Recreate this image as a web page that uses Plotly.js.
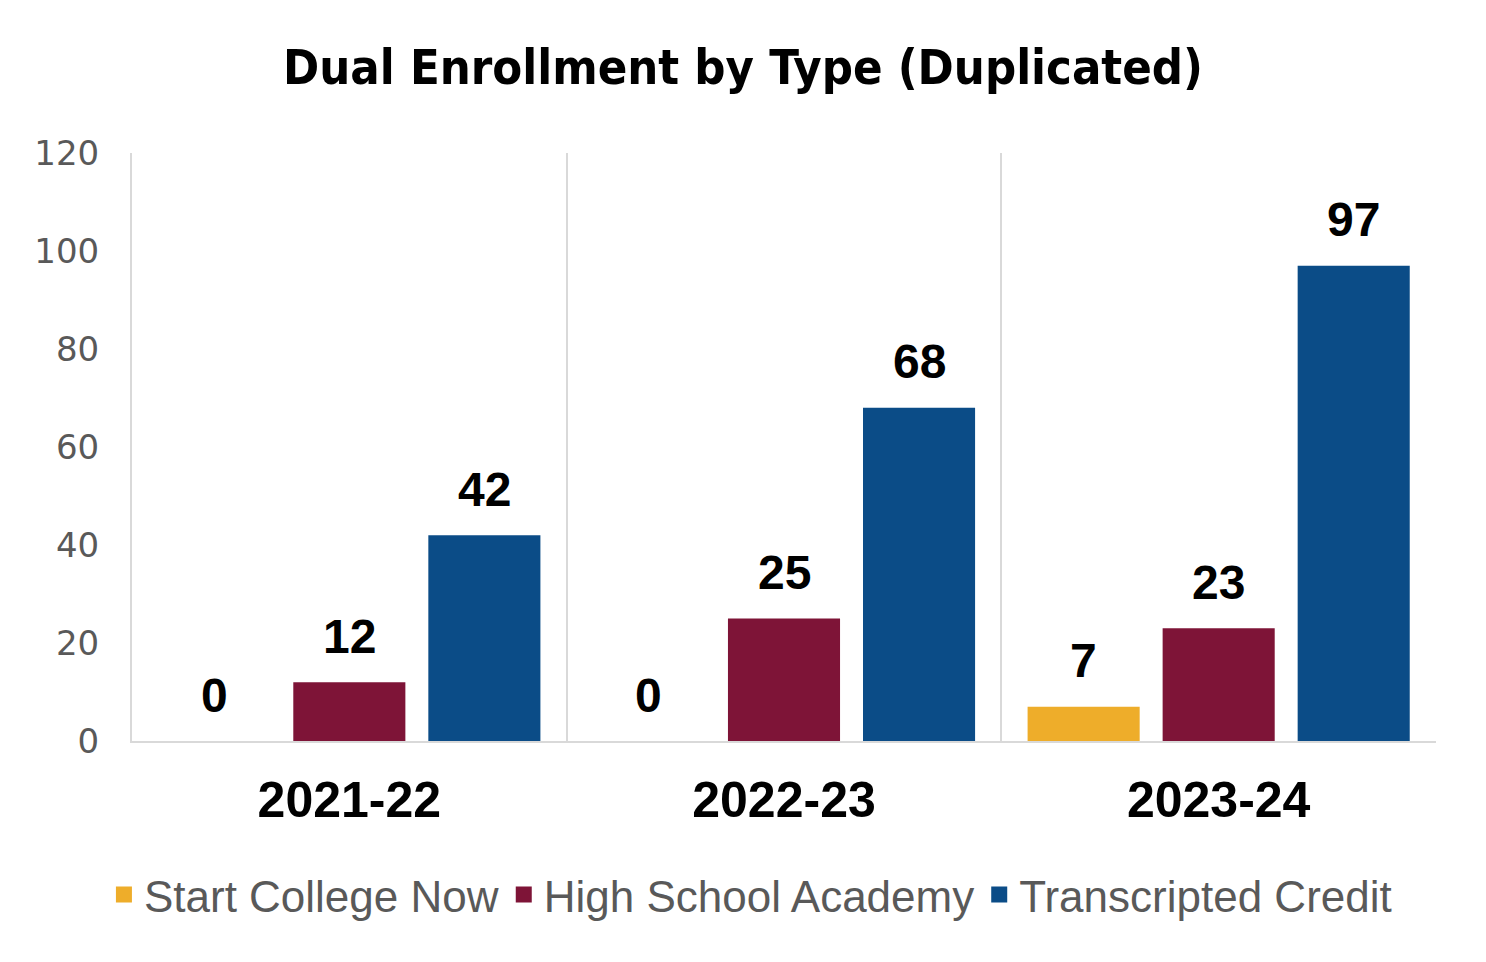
<!DOCTYPE html>
<html>
<head>
<meta charset="utf-8">
<script src="https://cdn.plot.ly/plotly-3.0.1.min.js"></script>
<style>html,body{margin:0;padding:0;background:#fff;}#chart{width:1486px;height:962px;}</style>
</head>
<body>
<div id="chart"></div>
<script>
const categories = ["2021-22", "2022-23", "2023-24"];
const seriesNames = ["Start College Now", "High School Academy", "Transcripted Credit"];
const startCollegeNow = [0, 0, 7];
const highSchoolAcademy = [12, 25, 23];
const transcriptedCredit = [42, 68, 97];
const yTicks = [0, 20, 40, 60, 80, 100, 120];
const colors = ["#EEAD2A", "#7E1437", "#0B4C87"];

const seriesValues = [startCollegeNow, highSchoolAcademy, transcriptedCredit];
const bargap = 0.068;
const bargroupgap = 0.17;

const traces = seriesValues.map((vals, i) => ({
  type: "bar",
  name: seriesNames[i],
  x: categories,
  y: vals,
  marker: {color: colors[i]},
  showlegend: false,
  hoverinfo: "none"
}));

// legend entries with larger square swatches
seriesNames.forEach((name, i) => {
  traces.push({
    type: "scatter", mode: "markers", name: name,
    x: [null], y: [null],
    marker: {symbol: "square", size: 20, color: colors[i]},
    showlegend: true, hoverinfo: "none"
  });
});

// data labels positioned above each grouped bar
const n = seriesValues.length;
const slot = (1 - bargap) / n;
const annotations = [];
seriesValues.forEach((vals, i) => {
  const off = -((1 - bargap) / 2) + slot * (i + 0.5);
  vals.forEach((v, j) => {
    annotations.push({
      xref: "x", yref: "y",
      x: j + off, y: v,
      text: "<b>" + String(v) + "</b>",
      showarrow: false,
      yanchor: "middle",
      yshift: 46,
      font: {family: "Liberation Sans, Arial, sans-serif", size: 48, color: "#000"}
    });
  });
});

const layout = {
  width: 1486, height: 962,
  margin: {l: 132, r: 50, t: 153, b: 221},
  paper_bgcolor: "#fff", plot_bgcolor: "#fff",
  title: {
    text: "<b>Dual Enrollment by Type (Duplicated)</b>",
    x: 0.5, xanchor: "center", xref: "container",
    y: 1 - 67 / 962, yanchor: "middle",
    font: {family: "DejaVu Sans Condensed, Liberation Sans, sans-serif", size: 48.5, color: "#000"}
  },
  barmode: "group",
  bargap: bargap,
  bargroupgap: bargroupgap,
  showlegend: true,
  legend: {
    orientation: "h",
    xref: "container", x: 0.505, xanchor: "center",
    yref: "container", y: 1 - 895 / 962, yanchor: "middle",
    font: {family: "Liberation Sans, Arial, sans-serif", size: 44, color: "#595959"},
    itemsizing: "trace", itemwidth: 30, tracegroupgap: 0
  },
  xaxis: {
    type: "category",
    tickson: "boundaries",
    showgrid: true, gridcolor: "#d9d9d9", gridwidth: 2,
    showline: true, linecolor: "#d9d9d9", linewidth: 2,
    ticks: "", ticklabelstandoff: 14,
    tickfont: {family: "Liberation Sans, Arial, sans-serif", size: 50, color: "#000", weight: "bold"},
    fixedrange: true
  },
  yaxis: {
    range: [0, 120],
    tickvals: yTicks,
    ticktext: yTicks.map(String),
    showgrid: false, zeroline: false,
    showline: true, linecolor: "#d9d9d9", linewidth: 2,
    ticks: "", ticklabelstandoff: 24,
    tickfont: {family: "DejaVu Sans, sans-serif", size: 34, color: "#595959"},
    fixedrange: true
  },
  annotations: annotations
};

Plotly.newPlot("chart", traces, layout, {staticPlot: true, displayModeBar: false});
</script>
</body>
</html>
